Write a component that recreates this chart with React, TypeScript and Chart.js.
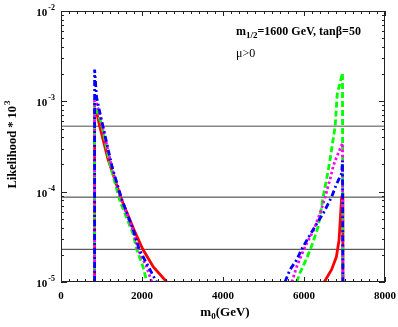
import { useEffect, useRef } from "react";
import { Chart, registerables } from "chart.js";

Chart.register(...registerables);

// ---- data ----
const xTickValues = [0, 2000, 4000, 6000, 8000];
const yDecades = [-5, -4, -3, -2];
const hLineValues = [5.3e-4, 8.7e-5, 2.3e-5];

const redLeftX = [830, 830, 880, 960, 1160, 1500, 1800, 2020, 2280, 2610];
const redLeftY = [1e-5, 7.6e-4, 7.6e-4, 5.2e-4, 2.3e-4, 8.1e-5, 3.8e-5, 2.3e-5, 1.47e-5, 1e-5];
const redRightX = [6500, 6680, 6800, 6865, 6900, 6930, 6960, 6960];
const redRightY = [1e-5, 1.37e-5, 1.9e-5, 2.9e-5, 5.3e-5, 8.8e-5, 9e-5, 1e-5];

const greenLeftX = [830, 830, 860, 1000, 1200, 1450, 1780, 1870, 2030, 2120];
const greenLeftY = [1e-5, 9e-4, 8.5e-4, 5.6e-4, 2.1e-4, 8e-5, 3.4e-5, 2.3e-5, 1.45e-5, 1e-5];
const greenRightX = [5820, 5900, 6050, 6170, 6270, 6350, 6410, 6460, 6520, 6600, 6640, 6770, 6820, 6950, 6960];
const greenRightY = [1e-5, 1.26e-5, 1.76e-5, 2.38e-5, 3.2e-5, 4.1e-5, 5.8e-5, 8.1e-5, 1.13e-4, 1.73e-4, 2.24e-4, 5.3e-4, 1.2e-3, 2.05e-3, 1e-5];

const magentaLeftX = [830, 830, 850, 1000, 1250, 1470, 1790, 1900, 2115, 2240];
const magentaLeftY = [1e-5, 1.1e-3, 1.05e-3, 6e-4, 1.9e-4, 8.5e-5, 3.6e-5, 2.3e-5, 1.47e-5, 1e-5];
const magentaRightX = [5700, 5820, 5940, 6070, 6230, 6400, 6520, 6640, 6720, 6770, 6950, 6960];
const magentaRightY = [1e-5, 1.48e-5, 2e-5, 2.7e-5, 3.7e-5, 5.8e-5, 8.7e-5, 1.35e-4, 1.9e-4, 2.2e-4, 3.45e-4, 1e-5];

const blueLeftX = [830, 830, 880, 1000, 1260, 1490, 1800, 1930, 2160, 2360];
const blueLeftY = [1e-5, 2.25e-3, 1.1e-3, 6.2e-4, 1.9e-4, 8.5e-5, 3.6e-5, 2.3e-5, 1.47e-5, 1e-5];
const blueRightX = [5530, 5650, 5820, 5940, 6070, 6270, 6480, 6680, 6800, 6930, 6950, 6960];
const blueRightY = [1e-5, 1.36e-5, 1.76e-5, 2.3e-5, 2.9e-5, 4.1e-5, 5.8e-5, 8.7e-5, 1.2e-4, 1.6e-4, 2.2e-4, 1e-5];

const X_MIN = 0;
const X_MAX = 8000;
const Y_MIN = 1e-5;
const Y_MAX = 1e-2;
const X_MINOR_STEP = 200;

const SERIF = '"Liberation Serif", "Times New Roman", serif';

const pts = (xs: number[], ys: number[]) => xs.map((x, i) => ({ x, y: ys[i] }));

function curve(xs: number[], ys: number[], color: string, dash: number[], order: number) {
  return {
    data: pts(xs, ys),
    borderColor: color,
    backgroundColor: color,
    borderWidth: 2.8,
    borderDash: dash,
    pointRadius: 0,
    showLine: true,
    tension: 0,
    order,
  };
}

const framePlugin = {
  id: "frame",
  afterDatasetsDraw(chart: any) {
    const ctx: CanvasRenderingContext2D = chart.ctx;
    const xs = chart.scales.x;
    const ys = chart.scales.y;
    const a = chart.chartArea;
    ctx.save();
    ctx.strokeStyle = "#222";
    ctx.lineWidth = 1;
    ctx.strokeRect(a.left + 0.5, a.top + 0.5, a.right - a.left - 1, a.bottom - a.top - 1);

    // x ticks
    ctx.beginPath();
    for (let v = X_MIN; v <= X_MAX; v += X_MINOR_STEP) {
      const px = Math.round(xs.getPixelForValue(v)) + 0.5;
      const len = xTickValues.includes(v) ? 5 : 3;
      ctx.moveTo(px, a.bottom);
      ctx.lineTo(px, a.bottom - len);
      ctx.moveTo(px, a.top);
      ctx.lineTo(px, a.top + len);
    }
    // y ticks
    for (let d = yDecades[0]; d <= yDecades[yDecades.length - 1]; d++) {
      for (let m = 1; m <= 9; m++) {
        const v = m * Math.pow(10, d);
        if (v > Y_MAX * 1.0001) break;
        const py = Math.round(ys.getPixelForValue(v)) + 0.5;
        const len = m === 1 ? 6 : 3;
        ctx.moveTo(a.left, py);
        ctx.lineTo(a.left + len, py);
        ctx.moveTo(a.right, py);
        ctx.lineTo(a.right - len, py);
      }
    }
    ctx.stroke();

    ctx.fillStyle = "#000";
    // x tick labels
    ctx.font = `bold 11px ${SERIF}`;
    ctx.textAlign = "center";
    ctx.textBaseline = "alphabetic";
    xTickValues.forEach((v) => {
      ctx.fillText(String(v), xs.getPixelForValue(v), a.bottom + 17);
    });

    // y tick labels 10^d
    yDecades.forEach((d) => {
      const py = ys.getPixelForValue(Math.pow(10, d));
      ctx.font = `bold 8px ${SERIF}`;
      const exp = String(d);
      const ew = ctx.measureText(exp).width;
      ctx.font = `bold 11px ${SERIF}`;
      const bw = ctx.measureText("10").width;
      const right = a.left - 6;
      ctx.textAlign = "left";
      ctx.fillText("10", right - ew - bw - 1, py + 5);
      ctx.font = `bold 8px ${SERIF}`;
      ctx.fillText(exp, right - ew, py - 1);
    });

    // y title
    ctx.save();
    ctx.translate(16, 145);
    ctx.rotate(-Math.PI / 2);
    ctx.font = `bold 12.5px ${SERIF}`;
    const t1 = "Likelihood * 10";
    const w1 = ctx.measureText(t1).width;
    ctx.font = `bold 9px ${SERIF}`;
    const w2 = ctx.measureText("3").width;
    const sx = -(w1 + w2) / 2;
    ctx.font = `bold 12.5px ${SERIF}`;
    ctx.textAlign = "left";
    ctx.fillText(t1, sx, 0);
    ctx.font = `bold 9px ${SERIF}`;
    ctx.fillText("3", sx + w1 + 1, -6);
    ctx.restore();

    // x title m_0(GeV)
    ctx.font = `bold 13px ${SERIF}`;
    const mw = ctx.measureText("m").width;
    const gw = ctx.measureText("(GeV)").width;
    ctx.font = `bold 9px ${SERIF}`;
    const zw = ctx.measureText("0").width;
    const tx = 225 - (mw + zw + gw) / 2;
    ctx.textAlign = "left";
    ctx.font = `bold 13px ${SERIF}`;
    ctx.fillText("m", tx, 316);
    ctx.font = `bold 9px ${SERIF}`;
    ctx.fillText("0", tx + mw, 319);
    ctx.font = `bold 13px ${SERIF}`;
    ctx.fillText("(GeV)", tx + mw + zw, 316);

    // annotation
    let ax = 236;
    ctx.font = `bold 12px ${SERIF}`;
    ctx.fillText("m", ax, 35);
    ax += ctx.measureText("m").width;
    ctx.font = `bold 9px ${SERIF}`;
    ctx.fillText("1/2", ax, 38);
    ax += ctx.measureText("1/2").width;
    ctx.font = `bold 12px ${SERIF}`;
    ctx.fillText("=1600 GeV, tan\u03B2=50", ax, 35);
    ctx.font = `12px ${SERIF}`;
    ctx.fillText("\u03BC>0", 236, 57);

    ctx.restore();
  },
};

export default function App() {
  const ref = useRef<HTMLCanvasElement | null>(null);
  useEffect(() => {
    if (!ref.current) return;
    const hDatasets = hLineValues.map((v, i) => ({
      data: [
        { x: X_MIN, y: v },
        { x: X_MAX, y: v },
      ],
      borderColor: i === 0 ? "#888" : "#333",
      borderWidth: i === 0 ? 1.6 : 1,
      pointRadius: 0,
      showLine: true,
      order: 10,
    }));
    const chart = new Chart(ref.current, {
      type: "scatter",
      data: {
        datasets: [
          ...hDatasets,
          curve(redLeftX, redLeftY, "#ff0000", [], 4),
          curve(redRightX, redRightY, "#ff0000", [], 4),
          curve(greenLeftX, greenLeftY, "#00ff00", [6, 3], 3),
          curve(greenRightX, greenRightY, "#00ff00", [6, 3], 3),
          curve(magentaLeftX, magentaLeftY, "#ff00ff", [2.5, 2.5], 2),
          curve(magentaRightX, magentaRightY, "#ff00ff", [2.5, 2.5], 2),
          curve(blueLeftX, blueLeftY, "#0000ff", [6, 3, 2, 3], 1),
          curve(blueRightX, blueRightY, "#0000ff", [6, 3, 2, 3], 1),
        ] as any,
      },
      options: {
        responsive: false,
        animation: false,
        devicePixelRatio: 1,
        layout: { padding: { left: 61, top: 11, right: 13, bottom: 45 } },
        plugins: { legend: { display: false }, tooltip: { enabled: false } },
        scales: {
          x: { type: "linear", min: X_MIN, max: X_MAX, display: false },
          y: { type: "logarithmic", min: Y_MIN, max: Y_MAX, display: false },
        },
      },
      plugins: [framePlugin],
    });
    return () => chart.destroy();
  }, []);
  return (
    <div style={{ position: "fixed", left: 0, top: 0, width: 398, height: 327, background: "#fff" }}>
      <canvas ref={ref} width={398} height={327} style={{ display: "block" }} />
    </div>
  );
}
